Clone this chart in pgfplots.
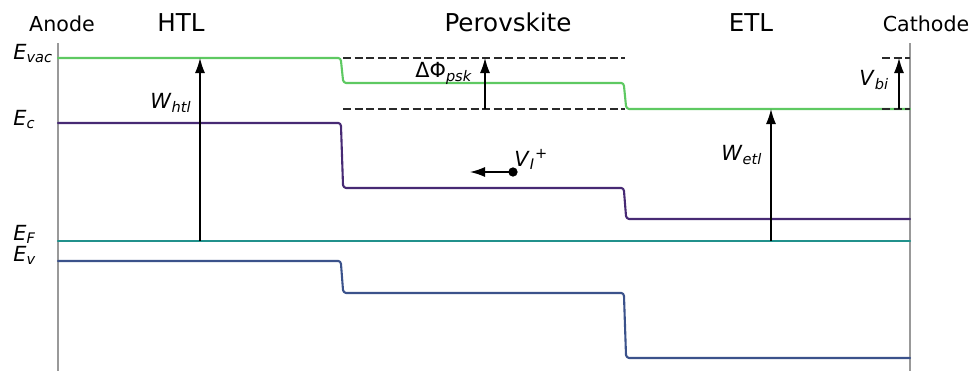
\documentclass[border=0pt]{standalone}
\usepackage{fontspec}
\setmainfont{DejaVu Sans}
\usepackage{pgfplots}
\pgfplotsset{compat=1.18}
\usetikzlibrary{arrows.meta}
\definecolor{cvac}{HTML}{5EC962}
\definecolor{cec}{HTML}{472A74}
\definecolor{cef}{HTML}{21918C}
\definecolor{cev}{HTML}{3B528B}
\definecolor{cgr}{HTML}{999999}
\definecolor{cdash}{HTML}{2A2A2A}
\newcommand{\sub}[1]{\textsubscript{\itshape #1}}
\newcommand{\titlefont}{\fontsize{12.3}{14}\selectfont}
\newcommand{\sidefont}{\fontsize{10.3}{12}\selectfont}
\newcommand{\lblfont}{\fontsize{10.4}{12}\selectfont}
\pgfplotsset{
  band/.style={line width=1.05pt, line join=round, line cap=round},
  dsh/.style={cdash, line width=0.9pt, dash pattern=on 4pt off 1.8pt},
  arr/.style={black, line width=0.65pt, -{Latex[length=7.5pt,width=5pt]}},
}
\begin{document}
\begin{tikzpicture}
\begin{axis}[
  scale only axis, width=485.5pt, height=185.5pt,
  xmin=0, xmax=971, ymin=0, ymax=371, y dir=reverse,
  hide axis, clip=false,
]
\path (rel axis cs:0,0) rectangle (rel axis cs:1,1);
% boundaries
\addplot[cgr, line width=0.85pt] coordinates {(58,43) (58,371)};
\addplot[cgr, line width=0.85pt] coordinates {(910,43) (910,371)};
% bands
\addplot[cvac, band] coordinates {(58,58) (338.5,58) (340.2,59) (341,61) (343,80) (344,82) (346,83) (621.5,83) (623.2,84) (624,86) (626,106) (627,108) (629,109) (910,109)};
\addplot[cec, band] coordinates {(58,123) (338.5,123) (340.2,124) (341,126) (343,185) (344,187) (346,188) (621.5,188) (623.2,189) (624,191) (626,216) (627,218) (629,219) (910,219)};
\addplot[cef, band] coordinates {(58,241) (910,241)};
\addplot[cev, band] coordinates {(58,261) (338.5,261) (340.2,262) (341,264) (343,290) (344,292) (346,293) (621.5,293) (623.2,294) (624,296) (626,355) (627,357) (629,358) (910,358)};
% dashed
\addplot[dsh] coordinates {(343,58) (625,58)};
\addplot[dsh] coordinates {(343,109) (625,109)};
\addplot[dsh] coordinates {(882,58) (910,58)};
\addplot[dsh] coordinates {(882,109) (910,109)};
% arrows
\addplot[arr] coordinates {(200,241) (200,58)};
\addplot[arr] coordinates {(485,109) (485,58)};
\addplot[arr] coordinates {(771,241) (771,109)};
\addplot[arr] coordinates {(899,109) (899,58)};
\addplot[arr] coordinates {(513,172) (470,172)};
\addplot[black, only marks, mark=*, mark size=2.1pt] coordinates {(513,172)};
% titles
\node[anchor=base, inner sep=0] at (axis cs:62,32) {\sidefont Anode};
\node[anchor=base, inner sep=0] at (axis cs:181,32) {\titlefont HTL};
\node[anchor=base, inner sep=0] at (axis cs:508,32) {\titlefont Perovskite};
\node[anchor=base, inner sep=0] at (axis cs:751,32) {\titlefont ETL};
\node[anchor=base, inner sep=0] at (axis cs:926,32) {\sidefont Cathode};
% level labels
\node[anchor=base west, inner sep=0] at (axis cs:13,60) {\lblfont\textit{E}\sub{vac}};
\node[anchor=base west, inner sep=0] at (axis cs:13,126) {\lblfont\textit{E}\sub{c}};
\node[anchor=base west, inner sep=0] at (axis cs:13,240) {\lblfont\textit{E}\sub{F}};
\node[anchor=base west, inner sep=0] at (axis cs:13,261) {\lblfont\textit{E}\sub{v}};
% arrow labels
\node[anchor=base west, inner sep=0] at (axis cs:150,108) {\lblfont\textit{W}\sub{htl}};
\node[anchor=base west, inner sep=0] at (axis cs:415,77) {\lblfont ΔΦ\sub{psk}};
\node[anchor=base west, inner sep=0] at (axis cs:721,160) {\lblfont\textit{W}\sub{etl}};
\node[anchor=base west, inner sep=0] at (axis cs:859,85) {\lblfont\textit{V}\sub{bi}};
\node[anchor=base west, inner sep=0] at (axis cs:514,166) {\lblfont\textit{V}\sub{I}\textsuperscript{+}};
\end{axis}
\end{tikzpicture}
\end{document}
